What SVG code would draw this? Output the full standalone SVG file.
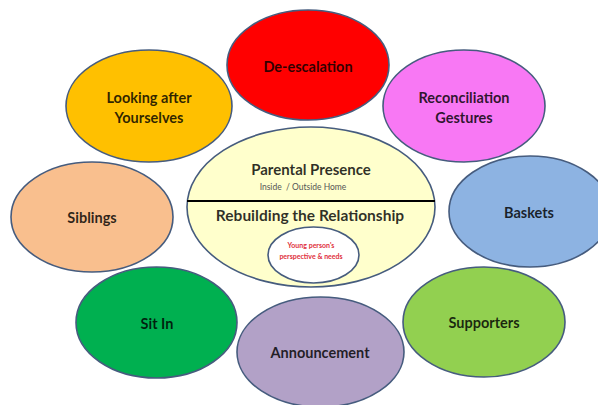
<svg xmlns="http://www.w3.org/2000/svg" width="598" height="405" viewBox="0 0 598 405">
<style>
.n{stroke:#465c7e;stroke-width:1.6}
.t{font-family:Lato,"Liberation Sans",sans-serif;font-weight:bold;font-size:14.5px;fill:#000;fill-opacity:0.82;text-anchor:middle;dominant-baseline:central}
</style>
<rect width="598" height="405" fill="#fff"/>
<g id="connectors"/>
<g id="deescalation"><ellipse class="n" cx="308" cy="65" rx="81" ry="55" fill="#ff0000"/><text class="t" x="308" y="66">De-escalation</text></g>
<g id="looking"><ellipse class="n" cx="149" cy="106" rx="83" ry="56" fill="#ffc000"/><text class="t" x="149" y="97">Looking after</text><text class="t" x="149" y="117">Yourselves</text></g>
<g id="reconciliation"><ellipse class="n" cx="464" cy="106" rx="81" ry="56" fill="#f878f4"/><text class="t" x="464" y="97">Reconciliation</text><text class="t" x="464" y="117">Gestures</text></g>
<g id="siblings"><ellipse class="n" cx="92" cy="217" rx="81" ry="55" fill="#f9bf8e"/><text class="t" x="92" y="217">Siblings</text></g>
<g id="baskets"><ellipse class="n" cx="530" cy="211.5" rx="81" ry="55.5" fill="#8db3e2"/><text class="t" x="529" y="212">Baskets</text></g>
<g id="sitin"><ellipse class="n" cx="156.5" cy="322.5" rx="80.5" ry="55.5" fill="#00b050"/><text class="t" x="157" y="323">Sit In</text></g>
<g id="supporters"><ellipse class="n" cx="484" cy="322" rx="81" ry="55" fill="#92d050"/><text class="t" x="484" y="322">Supporters</text></g>
<g id="announcement"><ellipse class="n" cx="320.5" cy="352" rx="83.5" ry="55" fill="#b2a1c7"/><text class="t" x="320" y="352">Announcement</text></g>
<g id="center">
<ellipse class="n" cx="311" cy="207" rx="124" ry="80" fill="#ffffcc"/>
<line x1="187" y1="201" x2="435" y2="201" stroke="#000" stroke-width="2.2"/>
<text class="t" x="311" y="169" style="font-size:15px">Parental Presence</text>
<text x="303" y="187" xml:space="preserve" style="font-family:Lato,'Liberation Sans',sans-serif;font-size:8.5px;fill:#555;text-anchor:middle;dominant-baseline:central">Inside  / Outside Home</text>
<text class="t" x="310" y="215" style="font-size:15.5px">Rebuilding the Relationship</text>
</g>
<g id="youngperson">
<ellipse class="n" cx="313.5" cy="255" rx="45.5" ry="28" fill="#ffffff"/>
<text x="311" y="245" style="font-family:Lato,'Liberation Sans',sans-serif;font-weight:bold;font-size:7px;fill:#e0303c;text-anchor:middle;dominant-baseline:central">Young person's</text>
<text x="311" y="256" style="font-family:Lato,'Liberation Sans',sans-serif;font-weight:bold;font-size:7px;fill:#e0303c;text-anchor:middle;dominant-baseline:central">perspective &amp; needs</text>
</g>
</svg>
